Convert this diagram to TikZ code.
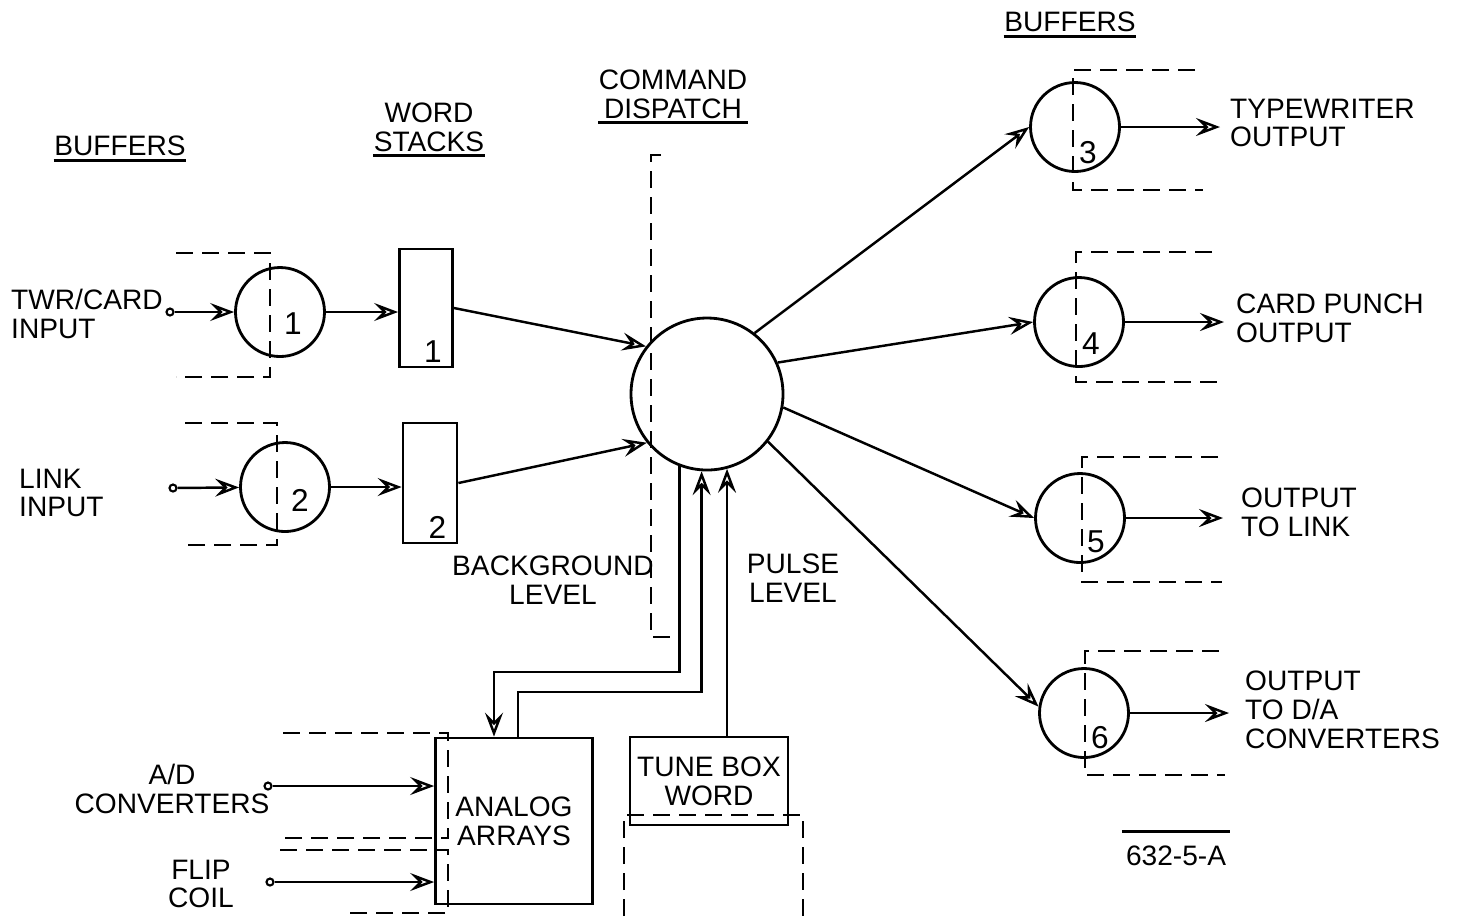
\documentclass[tikz,border=0pt]{standalone}
\usepackage{fontspec}
\setsansfont{Liberation Sans}
\usetikzlibrary{arrows.meta,positioning,calc}
\tikzset{
  buf/.style={draw=black, circle, line width=0.8pt, minimum size=8.9mm, inner sep=0pt},
  disp/.style={draw=black, circle, line width=0.8pt, minimum size=15.2mm, inner sep=0pt},
  stack/.style={draw=black, line width=0.8pt, minimum width=5.3mm, minimum height=11.8mm, inner sep=0pt},
  box/.style={draw=black, line width=0.8pt, align=center, inner sep=0pt, font=\sffamily\fontsize{8}{8.2}\selectfont},
  lbl/.style={align=center, inner sep=1pt, font=\sffamily\fontsize{8}{8.2}\selectfont},
  num/.style={inner sep=1pt, font=\sffamily\fontsize{9}{9}\selectfont},
  term/.style={draw=black, circle, fill=white, line width=0.6pt, minimum size=0.7mm, inner sep=0pt},
  arr/.style={-{Stealth[open,length=2.4mm,width=1.8mm,inset=0.9mm]}, line width=0.7pt},
  wire/.style={line width=0.8pt},
  brk/.style={dash pattern=on 1.7mm off 0.9mm, line width=0.8pt}
}
\begin{document}
\begin{tikzpicture}[x=0.1mm, y=-0.1mm]
\useasboundingbox (0,0) rectangle (1457,916);

% headings
\node[lbl] (hbufl) at (120,146) {BUFFERS};
\node[lbl] (hws) at (429,127) {WORD\\STACKS};
\node[lbl] (hcd) at (673,94) {COMMAND\\DISPATCH};
\node[lbl] (hbufr) at (1070,22) {BUFFERS};
\foreach \h in {hbufl,hws,hcd,hbufr}
  \draw[wire] ([xshift=1pt]\h.south west) -- ([xshift=-1pt]\h.south east);

% input buffers
\node[buf] (b1) at (280,312) {};
\node[buf] (b2) at (285,487) {};
\draw[brk] (176,253) -| (270,377) -- (176,377);
\draw[brk] (185,423) -| (277,545) -- (180,545);
\node[num] at (293,324) {1};
\node[num] at (300,500) {2};
\node[term] (t1) at (170,312) {};
\node[term] (t2) at (173,488) {};
\node[lbl, align=left, anchor=west] (in1) at (7,314) {TWR/CARD\\INPUT};
\node[lbl, align=left, anchor=west] (in2) at (15,493) {LINK\\INPUT};
\draw[arr] (t1) -- (b1);
\draw[arr] (t2) -- (b2);

% word stacks
\node[stack] (ws1) at (426,308) {};
\node[stack, minimum width=5.4mm, minimum height=12mm] (ws2) at (430,483) {};
\node[num, above left=0.15mm and 0.8mm of ws1.south east] {1};
\node[num, above left=0.15mm and 0.8mm of ws2.south east] {2};
\draw[arr] (b1) -- (b1 -| ws1.west);
\draw[arr] (b2) -- (b2 -| ws2.west);

% command dispatch
\node[disp] (cd) at (707,394) {};
\draw[brk] (661,155) -| (651,637) -- (672,637);
\draw[arr] (ws1.east) -- (cd.142);
\draw[arr] (ws2.east) -- (cd.219);
\node[lbl] (lbg) at (553,580) {BACKGROUND\\LEVEL};
\node[lbl] (lpl) at (793,578) {PULSE\\LEVEL};

% analog arrays and tune box
\node[box, minimum width=15.7mm, minimum height=16.6mm] (aa) at (514,821) {ANALOG\\ARRAYS};
\node[box, minimum width=15.8mm, minimum height=8.8mm] (tb) at (709,781) {TUNE BOX\\WORD};
\coordinate (k1) at (494,672);
\coordinate (k2) at (518,692);
\draw[arr] (cd.249) |- (k1) -- (k1 |- aa.north);
\draw[arr] (k2 |- aa.north) -- (k2) -| (cd.266);
\draw[arr] (tb.north -| cd.285) -- (cd.285);
\draw[brk] (283,733) -| (448,838) -- (280,838);
\draw[brk] (280,850) -| (448,913) -- (346,913);
\draw[brk] (624,916) -- (624,815) -- (803,815) -- (803,916);
\node[term] (t3) at (268,786) {};
\node[term] (t4) at (270,882) {};
\draw[arr] (t3) -- (t3 -| aa.west);
\draw[arr] (t4) -- (t4 -| aa.west);
\node[lbl] (lad) at (172,789) {A/D\\CONVERTERS};
\node[lbl] (lfc) at (201,884) {FLIP\\COIL};

% output buffers
\node[buf] (b3) at (1075,127) {};
\node[buf] (b4) at (1079,322) {};
\node[buf] (b5) at (1080,518) {};
\node[buf] (b6) at (1084,713) {};
\draw[brk] (1195,70) -| (1073,190) -- (1203,190);
\draw[brk] (1212,252) -| (1076,382) -- (1223,382);
\draw[brk] (1218,457) -| (1082,582) -- (1222,582);
\draw[brk] (1219,651) -| (1085,775) -- (1225,775);
\node[num] at (1088,153) {3};
\node[num] at (1091,344) {4};
\node[num] at (1096,542) {5};
\node[num] at (1100,738) {6};
\draw[arr] (cd.52) -- (b3.west);
\draw[arr] (cd.24) -- (b4.west);
\draw[arr] (cd.-10) -- (b5.west);
\draw[arr] (cd.-38) -- (b6.172);
\node[lbl, align=left, anchor=west] (o3) at (1226,123) {TYPEWRITER\\OUTPUT};
\node[lbl, align=left, anchor=west] (o4) at (1232,318) {CARD PUNCH\\OUTPUT};
\node[lbl, align=left, anchor=west] (o5) at (1237,512) {OUTPUT\\TO LINK};
\node[lbl, align=left, anchor=west] (o6) at (1241,710) {OUTPUT\\TO D/A\\CONVERTERS};
\draw[arr, shorten >=0.6mm] (b3) -- (b3 -| o3.west);
\draw[arr, shorten >=0.8mm] (b4) -- (b4 -| o4.west);
\draw[arr, shorten >=1.4mm] (b5) -- (b5 -| o5.west);
\draw[arr, shorten >=1.2mm] (b6) -- (b6 -| o6.west);

% figure number
\node[lbl] (fig) at (1176,856) {632-5-A};
\draw[wire] ([yshift=1mm]fig.north west) -- ([yshift=1mm]fig.north east);
\end{tikzpicture}
\end{document}
